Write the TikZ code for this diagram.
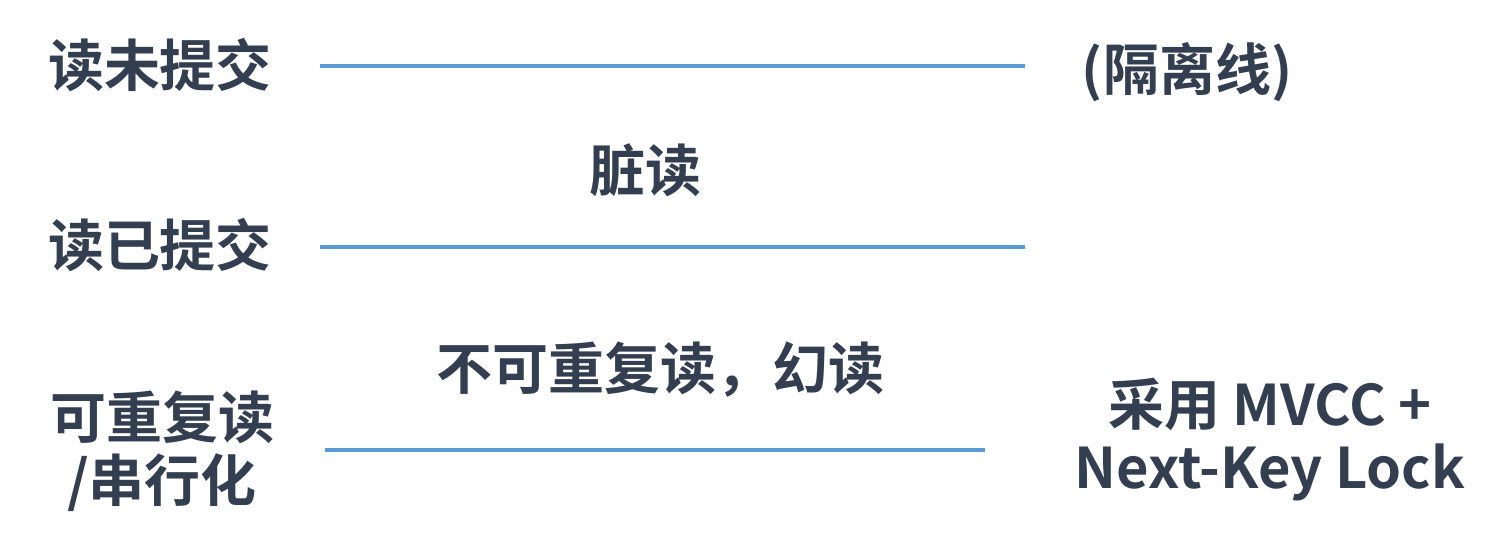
\documentclass[tikz,border=0pt]{standalone}
\usepackage{fontspec}
\setmainfont{Noto Sans CJK SC}[BoldFont={* Bold}]
\newfontfamily\cjkb{Noto Sans CJK SC Bold}
\definecolor{txt}{HTML}{333F50}
\definecolor{ln}{HTML}{5B9BD5}
\tikzset{
  lbl/.style={text=txt,font=\cjkb\fontsize{56}{63}\selectfont,inner sep=0pt},
  sep/.style={draw=ln,line width=3.5pt}
}
\begin{document}
\begin{tikzpicture}[x=1pt,y=-1pt]
\useasboundingbox (0,0) rectangle (1500,552);
\node[lbl] (l1) at (160,65) {读未提交};
\node[lbl] (l2) at (160,245) {读已提交};
\node[lbl,align=center] (l3) at (162,451) {可重复读\\/串行化};
\node[lbl] (iso) at (1187,72) {(隔离线)};
\node[lbl] (dirty) at (645,170) {脏读};
\node[lbl] (nr) at (660,370) {不可重复读，幻读};
\node[lbl,align=center] (mv) at (1270,440) {采用 MVCC +\\Next-Key Lock};
\coordinate (a1) at (320,66); \coordinate (b1) at (1025,66);
\coordinate (a2) at (320,247); \coordinate (b2) at (1025,247);
\coordinate (a3) at (325,450); \coordinate (b3) at (985,450);
\draw[sep] (a1) -- (b1);
\draw[sep] (a2) -- (b2);
\draw[sep] (a3) -- (b3);
\end{tikzpicture}
\end{document}
